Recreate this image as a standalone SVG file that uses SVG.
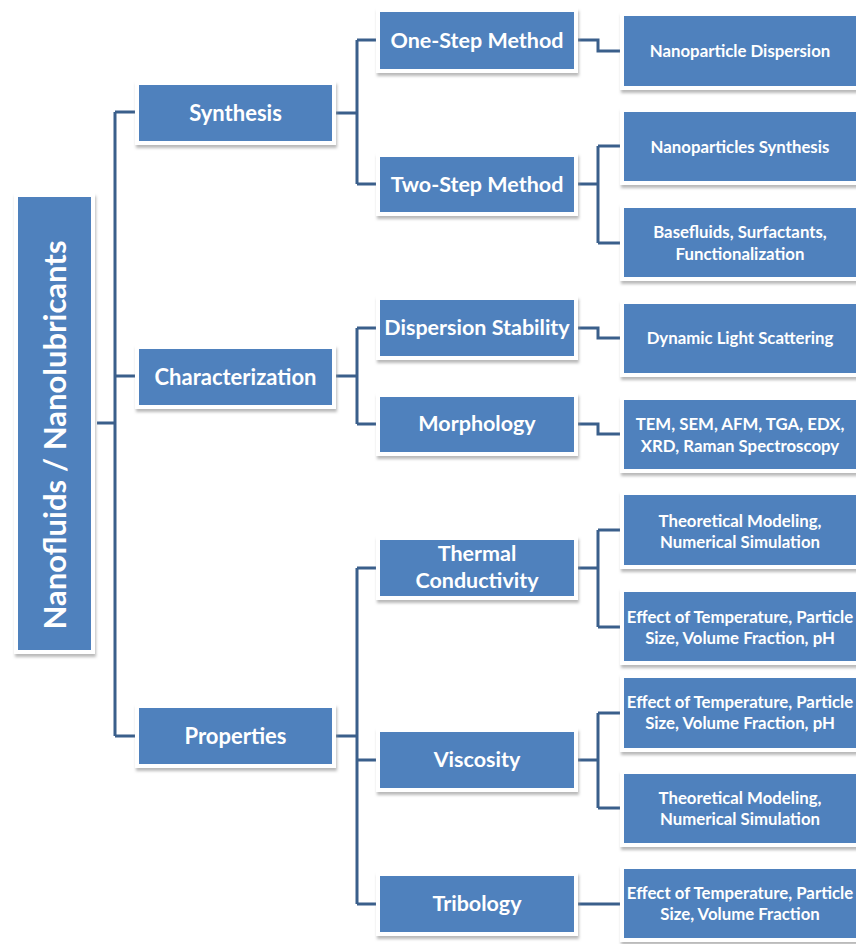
<svg xmlns="http://www.w3.org/2000/svg" width="856" height="944" viewBox="0 0 856 944">
<defs>
<filter id="sh" x="-10%" y="-10%" width="130%" height="140%">
<feDropShadow dx="1" dy="3" stdDeviation="1.5" flood-color="#9a9a9a" flood-opacity="0.7"/>
</filter>
<style>
.b{fill:#4F81BD;stroke:#ffffff;stroke-width:4;filter:url(#sh)}
.t{font-family:Lato,"Open Sans","Liberation Sans",sans-serif;font-weight:bold;fill:#ffffff;text-anchor:middle;dominant-baseline:central}
.r{font-size:31px}
.l1{font-size:22px}
.l2{font-size:21.5px}
.l3{font-size:16.8px}
.c{fill:none;stroke:#3A5F8B;stroke-width:3}
</style>
</defs>
<rect width="856" height="944" fill="#ffffff"/>
<g id="connectors">
<path class="c" d="M97 423H115M115 112V736M115 112H137M115 376H137M115 736H137"/>
<path class="c" d="M334 113H357M357 40V184M357 40H378M357 184H378"/>
<path class="c" d="M334 376H357M357 328V424M357 328H378M357 424H378"/>
<path class="c" d="M334 736H357M357 568V904M357 568H378M357 760H378M357 904H378"/>
<path class="c" d="M576 40H598V51H622"/>
<path class="c" d="M576 184H598M598 146V243M598 146H622M598 243H622"/>
<path class="c" d="M576 328H598V338H622"/>
<path class="c" d="M576 424H598V434H622"/>
<path class="c" d="M576 568H598M598 530V627M598 530H622M598 627H622"/>
<path class="c" d="M576 760H598M598 713V808M598 713H622M598 808H622"/>
<path class="c" d="M576 904H622"/>
</g>
<g id="root"><rect class="b" x="16" y="195" width="77" height="457"/><text class="t r" transform="translate(54 435) rotate(-90)">Nanofluids / Nanolubricants</text></g>
<g id="synthesis"><rect class="b" x="137" y="83" width="197" height="60"/><text class="t l1" x="235.5" y="112">Synthesis</text></g>
<g id="characterization"><rect class="b" x="137" y="347" width="197" height="60"/><text class="t l1" x="235.5" y="376">Characterization</text></g>
<g id="properties"><rect class="b" x="137" y="706" width="197" height="60"/><text class="t l1" x="235.5" y="735">Properties</text></g>
<g id="onestep"><rect class="b" x="378" y="10" width="198" height="61"/><text class="t l2" x="477" y="40">One-Step Method</text></g>
<g id="twostep"><rect class="b" x="378" y="155" width="198" height="59"/><text class="t l2" x="477" y="184">Two-Step Method</text></g>
<g id="dispersion"><rect class="b" x="378" y="298" width="198" height="60"/><text class="t l2" x="477" y="327">Dispersion Stability</text></g>
<g id="morphology"><rect class="b" x="378" y="395" width="198" height="59"/><text class="t l2" x="477" y="423">Morphology</text></g>
<g id="thermal"><rect class="b" x="378" y="538" width="198" height="60"/><text class="t l2" x="477" y="553">Thermal</text><text class="t l2" x="477" y="580">Conductivity</text></g>
<g id="viscosity"><rect class="b" x="378" y="730" width="198" height="60"/><text class="t l2" x="477" y="759">Viscosity</text></g>
<g id="tribology"><rect class="b" x="378" y="874" width="198" height="60"/><text class="t l2" x="477" y="903">Tribology</text></g>
<g id="np-dispersion"><rect class="b" x="622" y="14" width="240" height="74"/><text class="t l3" x="740" y="50">Nanoparticle Dispersion</text></g>
<g id="np-synthesis"><rect class="b" x="622" y="110" width="240" height="73"/><text class="t l3" x="740" y="146">Nanoparticles Synthesis</text></g>
<g id="basefluids"><rect class="b" x="622" y="206" width="240" height="73"/><text class="t l3" x="740" y="231">Basefluids, Surfactants,</text><text class="t l3" x="740" y="253">Functionalization</text></g>
<g id="dls"><rect class="b" x="622" y="302" width="240" height="73"/><text class="t l3" x="740" y="337">Dynamic Light Scattering</text></g>
<g id="tem"><rect class="b" x="622" y="398" width="240" height="73"/><text class="t l3" x="740" y="423">TEM, SEM, AFM, TGA, EDX,</text><text class="t l3" x="740" y="445">XRD, Raman Spectroscopy</text></g>
<g id="tc-theory"><rect class="b" x="622" y="493" width="240" height="74"/><text class="t l3" x="740" y="520">Theoretical Modeling,</text><text class="t l3" x="740" y="541">Numerical Simulation</text></g>
<g id="tc-effect"><rect class="b" x="622" y="590" width="240" height="73"/><text class="t l3" x="740" y="616">Effect of Temperature, Particle</text><text class="t l3" x="740" y="637">Size, Volume Fraction, pH</text></g>
<g id="v-effect"><rect class="b" x="622" y="676" width="240" height="74"/><text class="t l3" x="740" y="701">Effect of Temperature, Particle</text><text class="t l3" x="740" y="722">Size, Volume Fraction, pH</text></g>
<g id="v-theory"><rect class="b" x="622" y="772" width="240" height="73"/><text class="t l3" x="740" y="797">Theoretical Modeling,</text><text class="t l3" x="740" y="818">Numerical Simulation</text></g>
<g id="t-effect"><rect class="b" x="622" y="867" width="240" height="73"/><text class="t l3" x="740" y="892">Effect of Temperature, Particle</text><text class="t l3" x="740" y="913">Size, Volume Fraction</text></g>
</svg>
